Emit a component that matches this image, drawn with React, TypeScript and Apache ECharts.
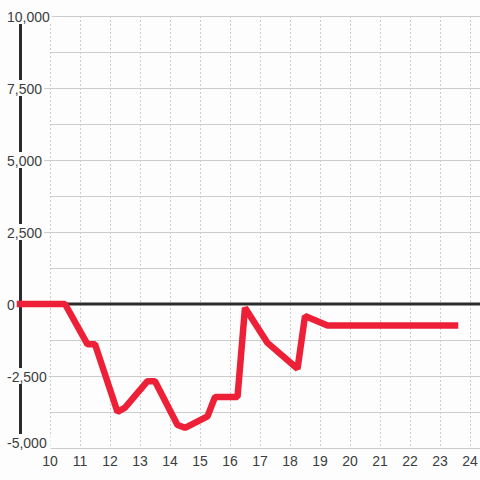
import React, { useEffect, useRef } from "react";
import * as echarts from "echarts";

// hour of day (decimal) and value
const hours = [9, 10.5, 11.25, 11.5, 12.25, 12.5, 13.25, 13.5, 14.25, 14.5, 15.25, 15.5, 16.25, 16.5, 17.25, 18.25, 18.5, 19.25, 23.5];
const values = [0, 0, -1400, -1400, -3750, -3600, -2680, -2680, -4200, -4300, -3900, -3230, -3230, -130, -1350, -2250, -420, -750, -750];
const zeroLine = [[9, 0], [24.67, 0]];
const yTicks = [-5000, -2500, 0, 2500, 5000, 7500, 10000];
const xMin = 9;
const xMax = 24.6667;

const FONT = "'Liberation Sans', Arial, sans-serif";
const BG = "#fcfdfc";
const GRID = "#cccccc";

export default function App() {
  const ref = useRef<HTMLDivElement>(null);
  useEffect(() => {
    const chart = echarts.init(ref.current!, null, { renderer: "svg" });
    const data = hours.map((h, i) => [h, values[i]]);
    const yMin = yTicks[0];
    const yMax = yTicks[yTicks.length - 1];
    chart.setOption({
      animation: false,
      backgroundColor: BG,
      grid: [
        { left: 20, right: -10, top: 16, bottom: 32, outerBoundsMode: "none", containLabel: false },
        { left: 50, right: -10, top: 16, bottom: 32, outerBoundsMode: "none", containLabel: false },
      ],
      xAxis: [
        {
          type: "value",
          gridIndex: 0,
          min: xMin,
          max: xMax,
          interval: 1,
          axisLine: { show: false },
          axisTick: { show: false },
          axisLabel: {
            color: "#3d3d3d",
            fontFamily: FONT,
            fontSize: 14,
            margin: 6,
            formatter: (v: number) => (Number.isInteger(v) && v > xMin ? String(v) : ""),
          },
          splitLine: { show: true, lineStyle: { color: GRID, width: 1, type: [2, 2] } },
        },
        {
          type: "value",
          gridIndex: 1,
          min: 10,
          max: xMax,
          show: false,
        },
      ],
      yAxis: [
        {
          type: "value",
          gridIndex: 0,
          min: yMin,
          max: yMax,
          interval: 2500,
          axisLine: { show: true, lineStyle: { color: "#2b2b2b", width: 3 } },
          axisTick: { show: false },
          splitLine: {
            show: true,
            showMinLine: false,
            showMaxLine: false,
            lineStyle: { color: GRID, width: 1 },
          },
          axisLabel: {
            align: "left",
            margin: 13,
            color: "#3d3d3d",
            fontFamily: FONT,
            fontSize: 14,
            backgroundColor: BG,
            padding: [2, 2, 0, 0],
            formatter: (v: number) => {
              const s = v.toLocaleString("en-US");
              return v === yMin ? "{b|" + s + "}" : s;
            },
            rich: {
              b: {
                color: "#3d3d3d",
                fontFamily: FONT,
                fontSize: 14,
                backgroundColor: BG,
                padding: [0, 2, 12, 0],
              },
            },
          },
        },
        {
          type: "value",
          gridIndex: 1,
          min: yMin,
          max: yMax,
          interval: 1250,
          axisLine: { show: false },
          axisTick: { show: false },
          axisLabel: { show: false },
          splitLine: { show: true, lineStyle: { color: GRID, width: 1 } },
        },
      ],
      series: [
        {
          type: "line",
          xAxisIndex: 0,
          yAxisIndex: 0,
          data: zeroLine,
          symbol: "none",
          silent: true,
          z: 2,
          lineStyle: { color: "#2b2b2b", width: 3 },
        },
        {
          type: "line",
          xAxisIndex: 0,
          yAxisIndex: 0,
          data,
          symbol: "none",
          clip: false,
          z: 3,
          lineStyle: { color: "#ee2038", width: 6.5, cap: "square", join: "bevel" },
        },
      ],
    });
    return () => chart.dispose();
  }, []);
  return (
    <div
      ref={ref}
      style={{ position: "fixed", left: 0, top: 0, width: 480, height: 480 }}
    />
  );
}
